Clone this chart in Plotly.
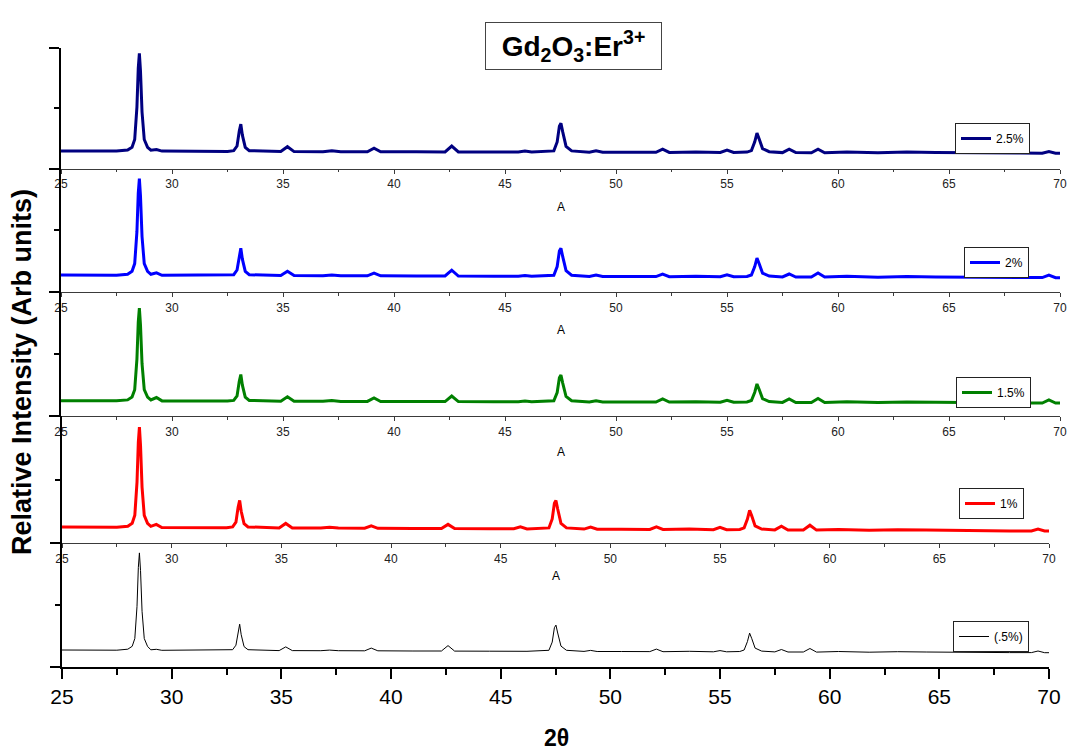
import plotly.graph_objects as go

# 2-theta sampling (degrees), shared by all five patterns
TWO_THETA = [
    25.0, 26.5, 27.5, 28.0, 28.2, 28.32, 28.42, 28.48, 28.53, 28.58, 28.65, 28.75, 28.9, 29.05,
    29.3, 29.55, 30.5, 31.5, 32.5,
    32.78, 32.93, 33.03, 33.1, 33.17, 33.3, 33.48,
    34.9, 35.2, 35.5, 36.8, 37.2, 37.6, 38.8, 39.1, 39.4, 41.0,
    42.3, 42.6, 42.9, 44.5, 45.6, 45.9, 46.2,
    47.2, 47.35, 47.45, 47.52, 47.6, 47.75, 48.0,
    48.8, 49.1, 49.4, 50.5, 51.8, 52.1, 52.4, 53.6, 54.7, 55.0, 55.3,
    55.9, 56.1, 56.25, 56.35, 56.45, 56.6, 56.9,
    57.5, 57.8, 58.1, 58.8, 59.1, 59.4, 60.4, 61.8, 63.1, 64.4, 66.0, 68.2,
    69.2, 69.5, 69.8, 70.0,
]

# Relative intensity (arb. units) for each Er3+ concentration
I_2_5 = [177, 176, 176, 186, 214, 292, 616, 1007, 1154, 978, 567, 292, 214, 185,
         192, 176, 174, 174, 173,
         180, 227, 377, 445, 336, 213, 180,
         172, 220, 171, 170, 180, 170, 170, 206, 169, 169,
         168, 226, 168, 167, 167, 176, 166,
         178, 267, 426, 455, 368, 224, 178,
         165, 180, 165, 164, 164, 196, 163, 168, 163, 187, 162,
         166, 181, 269, 356, 298, 201, 170,
         161, 196, 161, 160, 196, 160, 168, 159, 166, 163, 157, 156,
         155, 172, 155, 155]
I_2_0 = [170, 169, 168, 178, 207, 284, 603, 990, 1135, 961, 555, 284, 206, 177,
         192, 167, 167, 166, 166,
         173, 220, 370, 438, 329, 206, 173,
         164, 208, 164, 163, 171, 163, 162, 188, 162, 160,
         160, 218, 159, 158, 158, 166, 157,
         168, 255, 409, 437, 353, 213, 168,
         156, 170, 155, 155, 154, 179, 153, 158, 152, 172, 152,
         155, 170, 254, 339, 283, 189, 159,
         151, 180, 150, 150, 190, 149, 157, 148, 155, 151, 145, 144,
         144, 170, 143, 143]
I_1_5 = [153, 152, 152, 161, 189, 263, 569, 940, 1079, 912, 523, 263, 189, 161,
         185, 151, 150, 150, 149,
         156, 201, 348, 415, 308, 188, 156,
         148, 192, 147, 147, 155, 146, 146, 180, 145, 145,
         144, 200, 144, 143, 142, 150, 142,
         152, 235, 382, 409, 329, 195, 152,
         141, 153, 140, 140, 139, 170, 139, 143, 138, 158, 137,
         141, 155, 238, 320, 265, 174, 144,
         136, 170, 135, 135, 175, 135, 142, 134, 141, 138, 132, 131,
         130, 160, 130, 130]
I_1_0 = [160, 159, 158, 167, 197, 277, 608, 1010, 1160, 978, 557, 276, 196, 166,
         186, 155, 155, 154, 153,
         161, 208, 358, 426, 317, 194, 161,
         151, 196, 151, 150, 157, 149, 148, 171, 147, 146,
         144, 186, 144, 143, 142, 161, 141,
         151, 240, 397, 425, 340, 197, 151,
         139, 159, 138, 137, 136, 161, 135, 139, 133, 157, 133,
         136, 152, 239, 327, 269, 171, 140,
         131, 168, 130, 130, 178, 129, 136, 127, 133, 129, 123, 121,
         120, 139, 120, 120]
I_0_5 = [170, 169, 168, 178, 207, 285, 606, 995, 1141, 966, 557, 285, 206, 172,
         177, 167, 167, 166, 166,
         173, 218, 362, 428, 323, 204, 173,
         164, 201, 164, 163, 169, 163, 162, 189, 162, 160,
         160, 214, 159, 158, 158, 164, 157,
         167, 249, 393, 419, 340, 209, 167,
         156, 166, 155, 155, 154, 179, 153, 157, 152, 164, 152,
         155, 170, 254, 339, 283, 189, 159,
         151, 175, 150, 150, 185, 149, 155, 148, 153, 150, 145, 144,
         144, 160, 143, 143]

SERIES_NAMES = ["2.5%", "2%", "1.5%", "1%", "(.5%)"]
SERIES_VALUES = [I_2_5, I_2_0, I_1_5, I_1_0, I_0_5]
SERIES_COLORS = ["#000080", "#0000FF", "#008000", "#FF0000", "#000000"]
SERIES_WIDTHS = [3, 3, 3, 3, 1]
Y_TOPS = [1210, 1233, 1240, 1270, 1240]
X_TICKS = [25, 30, 35, 40, 45, 50, 55, 60, 65, 70]

W, H = 1068, 750
FONT = "Arial, 'Liberation Sans', sans-serif"

# panel boxes in pixels: left, right, top, bottom
PANELS = [
    (61, 1060, 47.7, 168.7),
    (61, 1060, 168.7, 292),
    (61, 1060, 292, 416),
    (62, 1049, 416, 543),
    (62, 1049, 543, 667),
]
# legend anchor (right edge, top edge) in pixels
LEGEND_POS = [(1030, 123), (1029, 247), (1031, 377), (1024, 488), (1029, 621)]
A_LABEL_Y = [207, 330, 452, 576]


def px_x(v):
    return v / W


def px_y(v):
    return 1 - v / H


fig = go.Figure()
layout = dict(
    width=W, height=H,
    margin=dict(l=0, r=0, t=0, b=0, autoexpand=False),
    paper_bgcolor="white", plot_bgcolor="white",
    font=dict(family=FONT, color="black"),
    annotations=[], showlegend=True,
)

for i, (name, vals, col, lw) in enumerate(zip(SERIES_NAMES, SERIES_VALUES, SERIES_COLORS, SERIES_WIDTHS)):
    n = i + 1
    sfx = "" if n == 1 else str(n)
    left, right, top, bottom = PANELS[i]
    last = n == len(PANELS)
    legend_key = "legend" + sfx
    fig.add_trace(go.Scatter(
        x=TWO_THETA, y=vals, mode="lines", name=name,
        line=dict(color=col, width=lw),
        xaxis="x" + sfx, yaxis="y" + sfx, legend=legend_key,
    ))
    layout["xaxis" + sfx] = dict(
        domain=[px_x(left), px_x(right)], anchor="y" + sfx, range=[25, 70],
        tickvals=X_TICKS, showline=True, showgrid=False, zeroline=False,
        linecolor="black" if last else "#3a3a3a", linewidth=2 if last else 1.2,
        ticks="outside", ticklen=10 if last else 4, tickwidth=2 if last else 1,
        tickcolor="black" if last else "#3a3a3a",
        minor=dict(dtick=2.5, tick0=25, ticks="outside", ticklen=6 if last else 2.5,
                   tickwidth=2 if last else 1, tickcolor="black" if last else "#3a3a3a"),
        tickfont=dict(size=21 if last else 12, family=FONT, color="black" if last else "#222"),
        automargin=False, fixedrange=True,
    )
    ytop = Y_TOPS[i]
    layout["yaxis" + sfx] = dict(
        domain=[px_y(bottom), px_y(top)], anchor="x" + sfx, range=[0, ytop],
        showline=True, linecolor="black", linewidth=2, showgrid=False, zeroline=False,
        showticklabels=False, ticks="outside", ticklen=10, tickwidth=2, tickcolor="black",
        tick0=0, dtick=ytop,
        minor=dict(tick0=0, dtick=ytop / 2, ticks="outside", ticklen=5, tickwidth=2, tickcolor="black"),
        automargin=False, fixedrange=True,
    )
    lx, ly = LEGEND_POS[i]
    layout[legend_key] = dict(
        x=px_x(lx), y=px_y(ly), xanchor="right", yanchor="top",
        bgcolor="white", bordercolor="#222", borderwidth=1,
        font=dict(size=12, family=FONT, color="black"), itemwidth=30,
        tracegroupgap=0,
    )
    if not last:
        layout["annotations"].append(dict(
            text="A", xref="paper", yref="paper", x=px_x((left + right) / 2), y=px_y(A_LABEL_Y[i]),
            xanchor="center", yanchor="middle", showarrow=False,
            font=dict(size=12, family=FONT, color="black"),
        ))

layout["annotations"] += [
    dict(text="<b>Gd<sub>2</sub>O<sub>3</sub>:Er<sup>3+</sup></b>", xref="paper", yref="paper",
         x=px_x(573.5), y=px_y(46), xanchor="center", yanchor="middle", showarrow=False,
         width=171, height=42, borderpad=2, bordercolor="#444", borderwidth=1, bgcolor="white",
         font=dict(size=28, family=FONT, color="black")),
    dict(text="<b>Relative Intensity (Arb units)</b>", xref="paper", yref="paper",
         x=px_x(22), y=px_y(372), xanchor="center", yanchor="middle", textangle=-90,
         showarrow=False, font=dict(size=27, family=FONT, color="black")),
    dict(text="<b>2θ</b>", xref="paper", yref="paper", x=px_x(556), y=px_y(738),
         xanchor="center", yanchor="middle", showarrow=False,
         font=dict(size=23, family=FONT, color="black")),
]

fig.update_layout(**layout)
fig.write_html("out.html")
